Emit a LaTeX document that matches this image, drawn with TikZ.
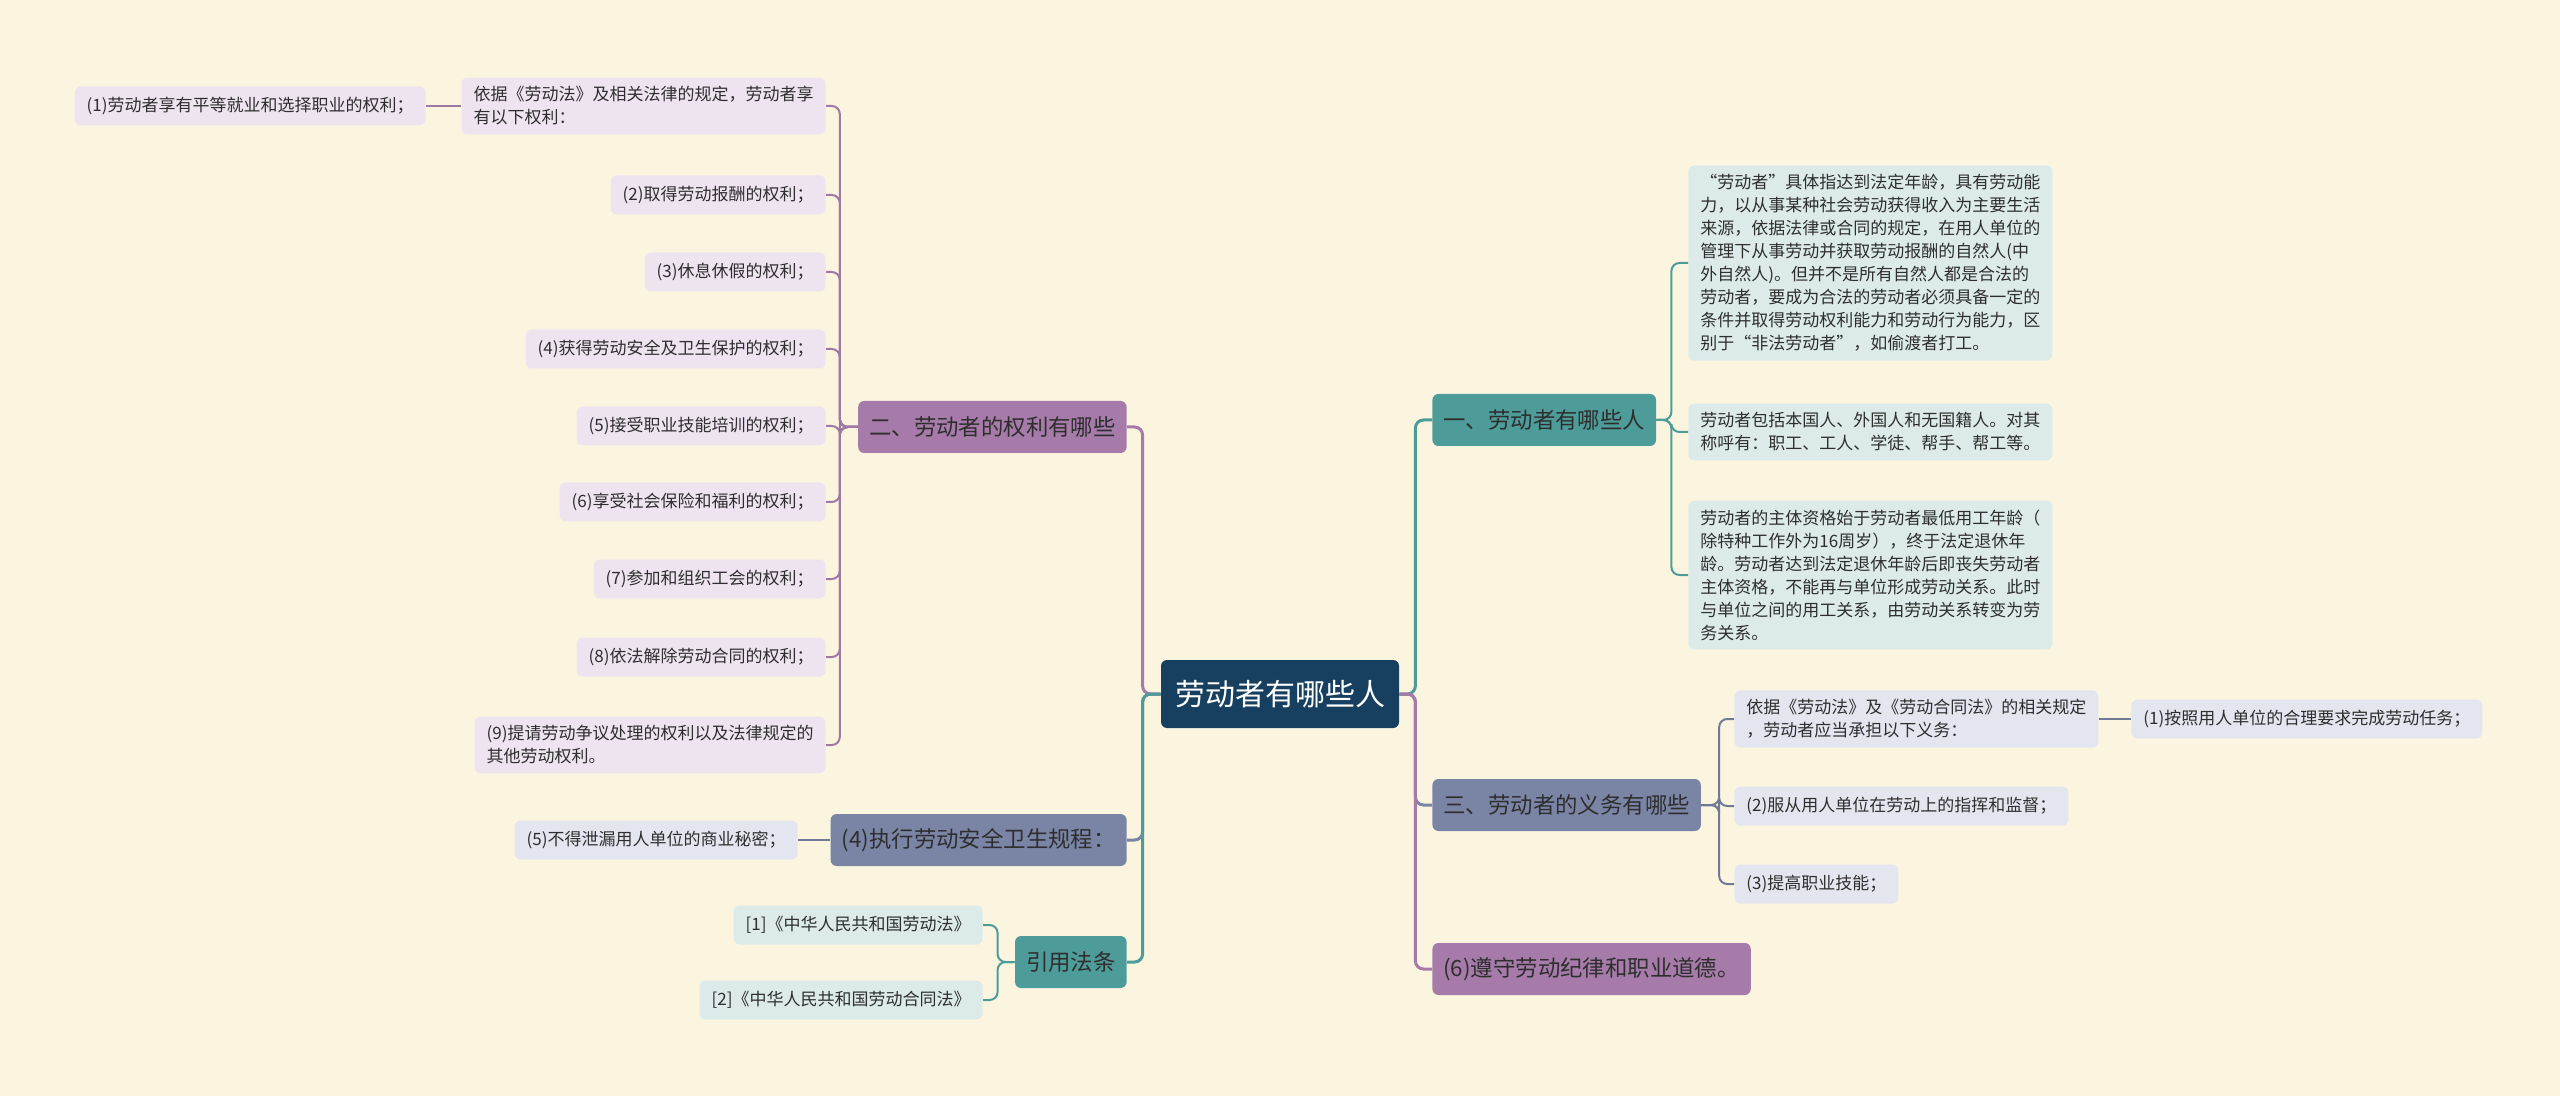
\documentclass[tikz,border=0pt]{standalone}
\usepackage{fontspec}
\setmainfont{Noto Sans CJK SC}
\definecolor{bg}{HTML}{FBF5E0}
\definecolor{rootblue}{HTML}{173F5F}
\definecolor{ink}{HTML}{2E2E2E}
\definecolor{teal}{HTML}{4E9C9A}
\definecolor{tealleaf}{HTML}{DCEBEA}
\definecolor{plum}{HTML}{A67BAA}
\definecolor{plumline}{HTML}{9E7AA3}
\definecolor{plumleaf}{HTML}{EEE4F0}
\definecolor{slate}{HTML}{7A85A6}
\definecolor{slateline}{HTML}{6F7A96}
\definecolor{slateleaf}{HTML}{E4E6EF}

\begin{document}
\begin{tikzpicture}[x=0.5pt,y=-0.5pt,
        rootbox/.style={fill=rootblue,text=white,rounded corners=3pt,
                font=\fontsize{15}{18}\selectfont,minimum height=34pt,inner xsep=7pt},
        branch/.style={rounded corners=3pt,text=ink,
                font=\fontsize{11.2}{14}\selectfont,minimum height=26pt,inner xsep=5.5pt},
        leaf/.style={rounded corners=3pt,text=ink,align=left,
                font=\fontsize{8.5}{11.5}\selectfont,minimum height=19.5pt,
                inner xsep=6pt,inner ysep=4.5pt},
        mainlink/.style={line width=1.5pt,rounded corners=4pt},
        link/.style={line width=1pt,rounded corners=4pt}]
        \useasboundingbox (0,0) rectangle (2560,1096);
        \fill[bg] (0,0) rectangle (2560,1096);

        \draw (1280,694) node[rootbox] (root) {劳动者有哪些人};

        \draw (1432,420) node[branch,anchor=west,fill=teal] (who) {一、劳动者有哪些人};
        \draw (1432,805) node[branch,anchor=west,fill=slate] (duties) {三、劳动者的义务有哪些};
        \draw (1432,969) node[branch,anchor=west,fill=plum] (moral) {(6)遵守劳动纪律和职业道德。};
        \draw (1127,427) node[branch,anchor=east,fill=plum] (rights) {二、劳动者的权利有哪些};
        \draw (1127,840) node[branch,anchor=east,fill=slate] (safety) {(4)执行劳动安全卫生规程：};
        \draw (1127,962) node[branch,anchor=east,fill=teal] (laws) {引用法条};

        \draw (1688,263) node[leaf,anchor=west,fill=tealleaf] (who1)
        {“劳动者”具体指达到法定年龄，具有劳动能\\
        力，以从事某种社会劳动获得收入为主要生活\\
        来源，依据法律或合同的规定，在用人单位的\\
        管理下从事劳动并获取劳动报酬的自然人(中\\
        外自然人)。但并不是所有自然人都是合法的\\
        劳动者，要成为合法的劳动者必须具备一定的\\
        条件并取得劳动权利能力和劳动行为能力，区\\
        别于“非法劳动者”，如偷渡者打工。};
        \draw (1688,432) node[leaf,anchor=west,fill=tealleaf] (who2)
        {劳动者包括本国人、外国人和无国籍人。对其\\
        称呼有：职工、工人、学徒、帮手、帮工等。};
        \draw (1688,575) node[leaf,anchor=west,fill=tealleaf] (who3)
        {劳动者的主体资格始于劳动者最低用工年龄（\\
        除特种工作外为16周岁），终于法定退休年\\
        龄。劳动者达到法定退休年龄后即丧失劳动者\\
        主体资格，不能再与单位形成劳动关系。此时\\
        与单位之间的用工关系，由劳动关系转变为劳\\
        务关系。};

        \draw (1734,719) node[leaf,anchor=west,fill=slateleaf] (duty0)
        {依据《劳动法》及《劳动合同法》的相关规定\\
        ，劳动者应当承担以下义务：};
        \draw (2131,719) node[leaf,anchor=west,fill=slateleaf] (duty1) {(1)按照用人单位的合理要求完成劳动任务；};
        \draw (1734,806) node[leaf,anchor=west,fill=slateleaf] (duty2) {(2)服从用人单位在劳动上的指挥和监督；};
        \draw (1734,884) node[leaf,anchor=west,fill=slateleaf] (duty3) {(3)提高职业技能；};

        \draw (826,106) node[leaf,anchor=east,fill=plumleaf] (right0)
        {依据《劳动法》及相关法律的规定，劳动者享\\
        有以下权利：};
        \draw (426,106) node[leaf,anchor=east,fill=plumleaf] (right1) {(1)劳动者享有平等就业和选择职业的权利；};
        \draw (826,195) node[leaf,anchor=east,fill=plumleaf] (right2) {(2)取得劳动报酬的权利；};
        \draw (826,272) node[leaf,anchor=east,fill=plumleaf] (right3) {(3)休息休假的权利；};
        \draw (826,349) node[leaf,anchor=east,fill=plumleaf] (right4) {(4)获得劳动安全及卫生保护的权利；};
        \draw (826,426) node[leaf,anchor=east,fill=plumleaf] (right5) {(5)接受职业技能培训的权利；};
        \draw (826,502) node[leaf,anchor=east,fill=plumleaf] (right6) {(6)享受社会保险和福利的权利；};
        \draw (826,579) node[leaf,anchor=east,fill=plumleaf] (right7) {(7)参加和组织工会的权利；};
        \draw (826,657) node[leaf,anchor=east,fill=plumleaf] (right8) {(8)依法解除劳动合同的权利；};
        \draw (826,745) node[leaf,anchor=east,fill=plumleaf] (right9)
        {(9)提请劳动争议处理的权利以及法律规定的\\
        其他劳动权利。};

        \draw (798,840) node[leaf,anchor=east,fill=slateleaf] (secret) {(5)不得泄漏用人单位的商业秘密；};
        \draw (983,925) node[leaf,anchor=east,fill=tealleaf] (law1) {[1]《中华人民共和国劳动法》};
        \draw (983,1000) node[leaf,anchor=east,fill=tealleaf] (law2) {[2]《中华人民共和国劳动合同法》};

        \draw[mainlink,slate] (root.east) -- ++(16,0) |- (duties.west);
        \draw[mainlink,teal] (root.east) -- ++(16,0) |- (who.west);
        \draw[mainlink,plum] (root.east) -- ++(16,0) |- (moral.west);
        \draw[mainlink,plum] (root.west) -- ++(-18,0) |- (rights.east);
        \draw[mainlink,slate] (root.west) -- ++(-18,0) |- (safety.east);
        \draw[mainlink,teal] (root.west) -- ++(-18,0) |- (laws.east);

        \foreach \n in {who1,who2,who3}
        \draw[link,teal] (who.east) -- ++(15,0) |- (\n.west);
        \foreach \n in {duty0,duty2,duty3}
        \draw[link,slateline] (duties.east) -- ++(18,0) |- (\n.west);
        \draw[link,slateline] (duty0.east) -- (duty1.west);
        \foreach \n in {right0,right2,right3,right4,right5,right6,right7,right8,right9}
        \draw[link,plumline] (rights.west) -- ++(-18,0) |- (\n.east);
        \draw[link,plumline] (right0.west) -- (right1.east);
        \draw[link,slateline] (safety.west) -- (secret.east);
        \foreach \n in {law1,law2}
        \draw[link,teal] (laws.west) -- ++(-17,0) |- (\n.east);
\end{tikzpicture}
\end{document}
